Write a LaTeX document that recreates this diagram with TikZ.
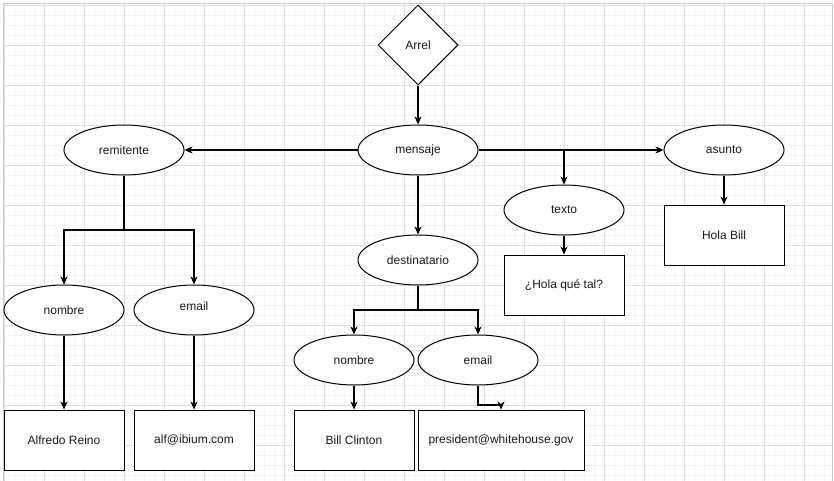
\documentclass[tikz,border=0pt]{standalone}
\usepackage{fontspec}
\setmainfont{Liberation Sans}
\usetikzlibrary{shapes.geometric,arrows.meta}
\definecolor{gridminor}{HTML}{F5F5F5}
\definecolor{gridmajor}{HTML}{E0E0E0}
\definecolor{txt}{HTML}{1A1A1A}
\tikzset{
  every node/.style={font=\fontsize{12pt}{14pt}\selectfont, text=txt},
  ell/.style={ellipse, draw, line width=1pt, fill=white, minimum width=120pt, minimum height=50pt, inner sep=0pt},
  valbox/.style={rectangle, draw, line width=1pt, fill=white, minimum width=120pt, minimum height=60pt, inner sep=0pt},
  rootdia/.style={diamond, draw, line width=1pt, fill=white, minimum width=80pt, minimum height=80pt, inner sep=0pt},
  conn/.style={line width=1.1pt, -{Stealth[length=8pt,width=7pt,inset=2.5pt]}},
}
\begin{document}
\begin{tikzpicture}[x=1pt,y=-1pt]
\useasboundingbox (0,0) rectangle (834,481);
% background
\fill[white] (0,0) rectangle (834,481);
\foreach \i in {0,...,83} {\draw[gridminor, line width=0.8pt] ({4+10*\i},4) -- ({4+10*\i},481);}
\foreach \j in {0,...,47} {\draw[gridminor, line width=0.8pt] (4,{5+10*\j}) -- (832,{5+10*\j});}
\foreach \i in {0,...,20} {\draw[gridmajor, line width=0.9pt] ({4+40*\i},4) -- ({4+40*\i},481);}
\foreach \j in {0,...,11} {\draw[gridmajor, line width=0.9pt] (4,{5+40*\j}) -- (832,{5+40*\j});}
\draw[gray!40, line width=1.2pt] (3.5,481) -- (3.5,3.5) -- (832.5,3.5) -- (832.5,481);

% nodes
\node[rootdia] (arrel) at (418,45) {Arrel};
\node[ell] (mensaje) at (418,150) {mensaje};
\node[ell] (remitente) at (124,150) {remitente};
\node[ell] (asunto) at (724,150) {asunto};
\node[ell] (texto) at (564,210) {texto};
\node[ell] (destinatario) at (418,260) {destinatario};
\node[ell] (nombreA) at (64,310) {nombre};
\node[ell] (emailA) at (194,310) {\raisebox{7pt}{email}};
\node[ell] (nombreB) at (354,360) {nombre};
\node[ell] (emailB) at (478,360) {email};
\node[valbox] (holabill) at (724,235) {Hola Bill};
\node[valbox] (holaque) at (564,285) {¿Hola qué tal?};
\node[valbox] (alfredo) at (64,440) {Alfredo Reino};
\node[valbox] (alf) at (194,440) {alf@ibium.com};
\node[valbox] (bill) at (354,440) {Bill Clinton};
\node[valbox, minimum width=166pt] (president) at (501,440) {president@whitehouse.gov};

\coordinate (rsplit) at (124,230);
\coordinate (dsplit) at (418,310);
\coordinate (ebend) at (478,405);

% connectors
\draw[conn] (arrel) -- (mensaje);
\draw[conn] (mensaje) -- (remitente);
\draw[conn] (mensaje) -- (asunto);
\draw[conn] (mensaje.east) -| (texto.north);
\draw[conn] (mensaje) -- (destinatario);
\draw[conn] (remitente.south) -- (rsplit) -| (nombreA.north);
\draw[conn] (remitente.south) -- (rsplit) -| (emailA.north);
\draw[conn] (nombreA) -- (alfredo);
\draw[conn] (emailA) -- (alf);
\draw[conn] (destinatario.south) -- (dsplit) -| (nombreB.north);
\draw[conn] (destinatario.south) -- (dsplit) -| (emailB.north);
\draw[conn] (nombreB) -- (bill);
\draw[conn] (emailB.south) -- (ebend) -| (president.north);
\draw[conn] (texto) -- (holaque);
\draw[conn] (asunto) -- (holabill);
\end{tikzpicture}
\end{document}
